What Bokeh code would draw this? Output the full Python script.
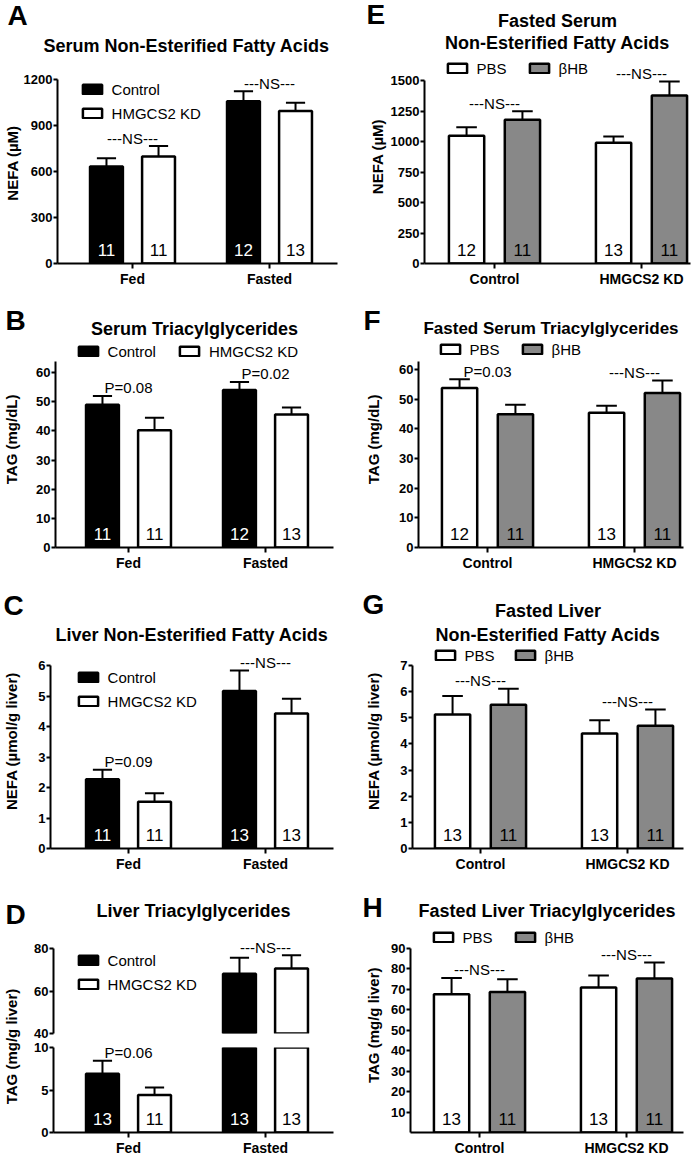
import numpy as np
from bokeh.plotting import figure
from bokeh.models import Range1d, FixedTicker, Label, Legend, LegendItem, Title
from bokeh.layouts import row, column
from bokeh.embed import file_html
from bokeh.resources import INLINE
from bokeh.core.properties import value

FONT = "Liberation Sans"

# ---------------- data ----------------
fed_groups = ["Fed", "Fasted"]
kd_groups = ["Control", "HMGCS2 KD"]
genotype_series = ["Control", "HMGCS2 KD"]
treatment_series = ["PBS", "βHB"]

# A  Serum NEFA (µM)
a_ctrl = [632, 1058]
a_ctrl_sem = [54, 65]
a_kd = [698, 994]
a_kd_sem = [68, 54]
a_ctrl_n = [11, 12]
a_kd_n = [11, 13]
a_notes = ["---NS---", "---NS---"]

# B  Serum TAG (mg/dL)
b_ctrl = [49.0, 54.0]
b_ctrl_sem = [3.0, 2.8]
b_kd = [40.2, 45.6]
b_kd_sem = [4.3, 2.4]
b_ctrl_n = [11, 12]
b_kd_n = [11, 13]
b_notes = ["P=0.08", "P=0.02"]

# C  Liver NEFA (µmol/g liver)
c_ctrl = [2.27, 5.16]
c_ctrl_sem = [0.31, 0.68]
c_kd = [1.53, 4.43]
c_kd_sem = [0.28, 0.48]
c_ctrl_n = [11, 13]
c_kd_n = [11, 13]
c_notes = ["P=0.09", "---NS---"]

# D  Liver TAG (mg/g liver)
d_ctrl = [6.9, 68.1]
d_ctrl_sem = [1.55, 7.6]
d_kd = [4.4, 70.6]
d_kd_sem = [0.9, 6.2]
d_ctrl_n = [13, 13]
d_kd_n = [11, 13]
d_notes = ["P=0.06", "---NS---"]

# E  Fasted serum NEFA (µM)
e_pbs = [1048, 990]
e_pbs_sem = [68, 52]
e_bhb = [1178, 1377]
e_bhb_sem = [70, 115]
e_pbs_n = [12, 13]
e_bhb_n = [11, 11]
e_notes = ["---NS---", "---NS---"]

# F  Fasted serum TAG (mg/dL)
f_pbs = [53.8, 45.4]
f_pbs_sem = [2.9, 2.4]
f_bhb = [44.9, 52.1]
f_bhb_sem = [3.2, 4.2]
f_pbs_n = [12, 13]
f_bhb_n = [11, 11]
f_notes = ["P=0.03", "---NS---"]

# G  Fasted liver NEFA (µmol/g liver)
g_pbs = [5.13, 4.40]
g_pbs_sem = [0.70, 0.51]
g_bhb = [5.50, 4.70]
g_bhb_sem = [0.61, 0.62]
g_pbs_n = [13, 13]
g_bhb_n = [11, 11]
g_notes = ["---NS---", "---NS---"]

# H  Fasted liver TAG (mg/g liver)
h_pbs = [67.6, 70.9]
h_pbs_sem = [8.0, 5.9]
h_bhb = [68.7, 75.3]
h_bhb_sem = [6.2, 7.8]
h_pbs_n = [13, 13]
h_bhb_n = [11, 11]
h_notes = ["---NS---", "---NS---"]

ticks_a = [0, 300, 600, 900, 1200]
ticks_b = [0, 10, 20, 30, 40, 50, 60]
ticks_c = [0, 1, 2, 3, 4, 5, 6]
ticks_d_top = [40, 60, 80]
ticks_d_bot = [0, 5, 10]
ticks_e = [0, 250, 500, 750, 1000, 1250, 1500]
ticks_f = [0, 10, 20, 30, 40, 50, 60]
ticks_g = [0, 1, 2, 3, 4, 5, 6, 7]
ticks_h = [10, 20, 30, 40, 50, 60, 70, 80, 90]

# ---------------- style / geometry ----------------
BLACK, WHITE, GRAY = "#000000", "#ffffff", "#888888"
BAR_W, OFF, CAP = 0.24, 0.19, 0.07
POS = np.array([1.0, 2.0])
COL_W = 350


def make_plot(col_x, strip_w, L, frame_right, frame_top, frame_bot, top_b,
              bottom_b, ylo, ppu, yticks, bounds, groups, cx, pu, xaxis=True):
    fl = col_x + strip_w + L
    fw = frame_right - fl
    right = col_x + COL_W - frame_right
    fh = frame_bot - frame_top
    yhi = ylo + fh / ppu
    x0 = 1 - (cx - fl) / pu
    p = figure(frame_width=fw, frame_height=fh, min_border_left=L,
               min_border_right=right, min_border_top=top_b,
               min_border_bottom=bottom_b,
               x_range=Range1d(x0, x0 + fw / pu), y_range=Range1d(ylo, yhi),
               output_backend="svg", toolbar_location=None, tools="",
               x_axis_location="below" if xaxis else None)
    p.outline_line_color = None
    p.grid.visible = False
    p.background_fill_color = WHITE
    p.border_fill_color = WHITE
    for ax in p.axis:
        ax.axis_line_width = 2
        ax.axis_line_color = BLACK
        ax.major_tick_line_width = 2
        ax.major_tick_line_color = BLACK
        ax.major_tick_in = 0
        ax.minor_tick_line_color = None
        ax.major_label_text_font = FONT
        ax.major_label_text_font_style = "bold"
        ax.major_label_text_color = BLACK
        ax.axis_label_text_font = FONT
        ax.axis_label_text_font_style = "bold"
        ax.axis_label_text_font_size = "15px"
        ax.axis_label_text_color = BLACK
    p.yaxis.ticker = FixedTicker(ticks=yticks)
    p.yaxis.bounds = bounds
    p.yaxis.major_tick_out = 4
    p.yaxis.major_label_standoff = 1
    p.yaxis.major_label_text_font_size = "13px"
    if xaxis:
        p.xaxis.ticker = FixedTicker(ticks=[1, 2])
        p.xaxis.major_label_overrides = {1: groups[0], 2: groups[1]}
        p.xaxis.major_tick_out = 5
        p.xaxis.major_label_standoff = 2
        p.xaxis.major_label_text_font_size = "14px"

    def conv(abs_y):
        return ylo + (frame_bot - abs_y) / ppu

    return p, conv, x0 + fw / pu / 2


def make_strip(w, row_top, row_h, letter=None, lx=0, ly=0, ylabel=None,
               yx=0, yy=0):
    s = figure(width=w, height=row_h, x_range=Range1d(0, w),
               y_range=Range1d(0, row_h), min_border=0, output_backend="svg",
               toolbar_location=None, tools="", x_axis_location=None,
               y_axis_location=None)
    s.outline_line_color = None
    s.grid.visible = False
    s.border_fill_color = WHITE
    if letter:
        s.text(x=[lx], y=[row_top + row_h - ly], text=[letter],
               text_align="left", text_baseline="middle",
               text_font=value(FONT), text_font_size="28px",
               text_font_style="bold", text_color=BLACK)
    if ylabel:
        s.text(x=[yx], y=[row_top + row_h - yy], text=[ylabel],
               angle=np.pi / 2, text_align="center", text_baseline="middle",
               text_font=value(FONT), text_font_size="15px",
               text_font_style="bold", text_color=BLACK)
    return s


def draw_series(p, means, sems, ns, xo, fill, ncolor, ny=None, idx=(0, 1)):
    idx = list(idx)
    x = POS[idx] + xo
    means = np.array(means, dtype=float)[idx]
    sems = np.array(sems, dtype=float)[idx]
    r = p.vbar(x=x, top=means, bottom=0, width=BAR_W, fill_color=fill,
               line_color=BLACK, line_width=2.5)
    p.segment(x0=x, y0=means, x1=x, y1=means + sems, line_color=BLACK,
              line_width=2)
    p.segment(x0=x - CAP, y0=means + sems, x1=x + CAP, y1=means + sems,
              line_color=BLACK, line_width=2)
    if ny is not None:
        p.text(x=x, y=[ny] * len(idx), text=[str(ns[i]) for i in idx],
               text_color=ncolor, text_align="center", text_baseline="middle",
               text_font=value(FONT), text_font_size="17px")
    return r


def add_notes(p, notes, m1, s1, m2, s2, idx=(0, 1)):
    for i in idx:
        top = max(m1[i] + s1[i], m2[i] + s2[i])
        p.add_layout(Label(x=POS[i], y=top, y_offset=8, text=notes[i],
                           text_align="center", text_baseline="middle",
                           text_font=FONT, text_font_size="15px",
                           text_color=BLACK))


def add_title(p, conv, xmid, lines, size="18px"):
    for txt, ya in lines:
        p.add_layout(Label(x=xmid, y=conv(ya), text=txt, text_align="center",
                           text_baseline="middle", text_font=FONT,
                           text_font_size=size, text_font_style="bold",
                           text_color=BLACK))


def add_legend(p, r1, r2, labels, vx, vy, orient, spacing):
    leg = Legend(items=[LegendItem(label=labels[0], renderers=[r1]),
                        LegendItem(label=labels[1], renderers=[r2])],
                 location=(vx, vy), orientation=orient, padding=0, margin=0,
                 spacing=spacing, border_line_color=None,
                 background_fill_alpha=0, glyph_width=24, glyph_height=12,
                 label_height=20, label_standoff=8, label_text_font=FONT,
                 label_text_font_size="15px", label_text_color=BLACK)
    p.add_layout(leg)


def panel(col_x, strip_w, L, frame_right, row_top, row_h, frame_top,
          axis_top, axis_bot, axis_max, top_b, bottom_b, yticks, groups, cx,
          pu, ylabel, ylabel_x, letter, letter_x, letter_y, title_lines,
          m1, s1, n1, m2, s2, n2, fills, ncols, series, notes, legend,
          title_size="18px"):
    ppu = (axis_bot - axis_top) / axis_max
    p, conv, xmid = make_plot(col_x, strip_w, L, frame_right, frame_top,
                              axis_bot, top_b, bottom_b, 0, ppu, yticks,
                              (0, axis_max), groups, cx, pu)
    ny = conv(axis_bot - 13.5)
    r1 = draw_series(p, m1, s1, n1, -OFF, fills[0], ncols[0], ny)
    r2 = draw_series(p, m2, s2, n2, OFF, fills[1], ncols[1], ny)
    add_notes(p, notes, m1, s1, m2, s2)
    add_title(p, conv, xmid, title_lines, title_size)
    vx, vy, orient, sp = legend
    add_legend(p, r1, r2, series, vx, vy, orient, sp)
    if strip_w == 0:
        p.yaxis.axis_label = ylabel
        p.yaxis.axis_label_standoff = 0
        return None, p
    s = make_strip(strip_w, row_top, row_h, letter, letter_x, letter_y,
                   ylabel, ylabel_x, (axis_top + axis_bot) / 2)
    return s, p


gen_fills, gen_ncol = (BLACK, WHITE), (WHITE, BLACK)
trt_fills, trt_ncol = (WHITE, GRAY), (BLACK, BLACK)

# ---- row 1 (0-288) ----
_, pA = panel(0, 0, 53, 333, 0, 288, 62, 79, 263, 1200, 62, 25, ticks_a,
              fed_groups, 128, 137, "NEFA (µM)", 0, None, 0, 0, [],
              a_ctrl, a_ctrl_sem, a_ctrl_n, a_kd, a_kd_sem, a_kd_n,
              gen_fills, gen_ncol, genotype_series, a_notes,
              (22.6, 140, "vertical", 4))
# panel letter (outer title) and chart title (nearest the frame)
pA.title.text = "A"
pA.title.align = "left"
pA.title.offset = -50
pA.title.standoff = -9
pA.title.text_font = FONT
pA.title.text_font_size = "28px"
pA.title.text_font_style = "bold"
pA.title.text_color = BLACK
pA.add_layout(Title(text="Serum Non-Esterified Fatty Acids", align="left",
                    offset=-14, standoff=14, text_font=FONT,
                    text_font_size="18px", text_font_style="bold",
                    text_color=BLACK), "above")

sE, pE = panel(350, 33, 34, 683, 0, 288, 0, 80, 263, 1500, 0, 25, ticks_e,
               kd_groups, 487, 147, "NEFA (µM)", 23, "E", 12, 15,
               [("Fasted Serum", 20), ("Non-Esterified Fatty Acids", 42)],
               e_pbs, e_pbs_sem, e_pbs_n, e_bhb, e_bhb_sem, e_bhb_n,
               trt_fills, trt_ncol, treatment_series, e_notes,
               (20.6, 185, "horizontal", 20))

# ---- row 2 (288-571) ----
sB, pB = panel(0, 30, 25, 333, 288, 283, 288, 360, 546, 63.8, 0, 25, ticks_b,
               fed_groups, 128, 137, "TAG (mg/dL)", 11, "B", 5, 322,
               [("Serum Triacylglycerides", 327)],
               b_ctrl, b_ctrl_sem, b_ctrl_n, b_kd, b_kd_sem, b_kd_n,
               gen_fills, gen_ncol, genotype_series, b_notes,
               (20.6, 186, "horizontal", 21))
sF, pF = panel(350, 33, 35, 683, 288, 283, 288, 360, 546, 62.7, 0, 25,
               ticks_f, kd_groups, 487, 147, "TAG (mg/dL)", 23, "F", 13, 322,
               [("Fasted Serum Triacylglycerides", 327)],
               f_pbs, f_pbs_sem, f_pbs_n, f_bhb, f_bhb_sem, f_bhb_n,
               trt_fills, trt_ncol, treatment_series, f_notes,
               (19.6, 188, "horizontal", 20), title_size="17px")

# ---- row 3 (571-871) ----
sC, pC = panel(0, 30, 20, 333, 571, 300, 571, 663, 846, 6, 0, 25, ticks_c,
               fed_groups, 128, 137, "NEFA (µmol/g liver)", 11, "C", 3, 606,
               [("Liver Non-Esterified Fatty Acids", 632)],
               c_ctrl, c_ctrl_sem, c_ctrl_n, c_kd, c_kd_sem, c_kd_n,
               gen_fills, gen_ncol, genotype_series, c_notes,
               (25.6, 137, "vertical", 4))
sG, pG = panel(350, 33, 29, 683, 571, 300, 571, 663, 846, 7, 0, 25, ticks_g,
               kd_groups, 480, 147, "NEFA (µmol/g liver)", 23, "G", 12, 605,
               [("Fasted Liver", 608), ("Non-Esterified Fatty Acids", 632)],
               g_pbs, g_pbs_sem, g_pbs_n, g_bhb, g_bhb_sem, g_bhb_n,
               trt_fills, trt_ncol, treatment_series, g_notes,
               (20.6, 183, "horizontal", 18))

# ---- row 4 (871-1154) ----
sH, pH = panel(350, 33, 27, 683, 871, 283, 871, 945, 1129, 90, 0, 25, ticks_h,
               kd_groups, 479, 147, "TAG (mg/g liver)", 23, "H", 12, 907,
               [("Fasted Liver Triacylglycerides", 907)],
               h_pbs, h_pbs_sem, h_pbs_n, h_bhb, h_bhb_sem, h_bhb_n,
               trt_fills, trt_ncol, treatment_series, h_notes,
               (20.6, 185, "horizontal", 20))

# D: broken axis -> two stacked figures sharing x geometry
ppu_top = (1030 - 945) / (80 - 40)
ppu_bot = (1129 - 1044) / 10
pDt, conv_t, xmid_d = make_plot(0, 30, 23, 333, 871, 1030, 0, 7, 40, ppu_top,
                                ticks_d_top, (40, 80), fed_groups, 128, 137,
                                xaxis=False)
pDb, conv_b, _ = make_plot(0, 30, 23, 333, 1044, 1129, 7, 25, 0, ppu_bot,
                           ticks_d_bot, (0, 10), fed_groups, 128, 137)
rt1 = draw_series(pDt, d_ctrl, d_ctrl_sem, d_ctrl_n, -OFF, BLACK, WHITE,
                  idx=(1,))
rt2 = draw_series(pDt, d_kd, d_kd_sem, d_kd_n, OFF, WHITE, BLACK, idx=(1,))
nyd = conv_b(1129 - 14)
draw_series(pDb, d_ctrl, d_ctrl_sem, d_ctrl_n, -OFF, BLACK, WHITE, nyd)
draw_series(pDb, d_kd, d_kd_sem, d_kd_n, OFF, WHITE, BLACK, nyd)
add_notes(pDb, d_notes, d_ctrl, d_ctrl_sem, d_kd, d_kd_sem, idx=(0,))
add_notes(pDt, d_notes, d_ctrl, d_ctrl_sem, d_kd, d_kd_sem, idx=(1,))
add_title(pDt, conv_t, xmid_d, [("Liver Triacylglycerides", 907)])
add_legend(pDt, rt1, rt2, genotype_series, 22.6, 39, "vertical", 4)
sD = make_strip(30, 871, 283, "D", 5, 911, "TAG (mg/g liver)", 11, 1043)

layout = column(
    row(pA, row(sE, pE)),
    row(row(sB, pB), row(sF, pF)),
    row(row(sC, pC), row(sG, pG)),
    row(row(sD, column(pDt, pDb)), row(sH, pH)),
)

open("out.html", "w").write(file_html(layout, INLINE))
